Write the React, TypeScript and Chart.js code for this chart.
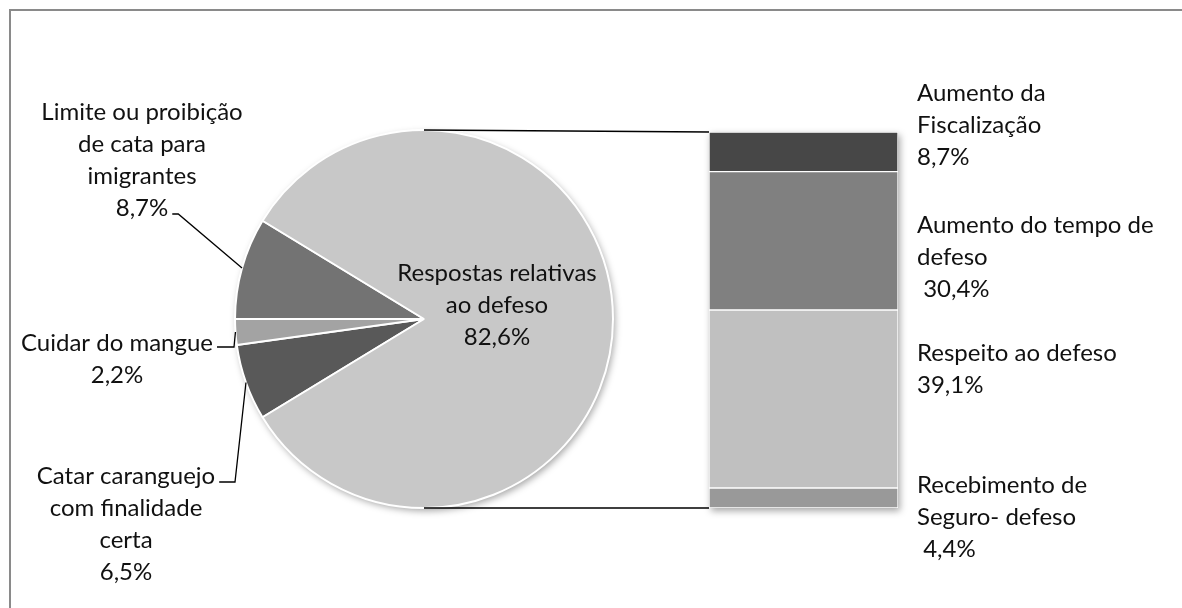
import React, { useEffect, useRef } from "react";
import { Chart, registerables } from "chart.js";

Chart.register(...registerables);

// ---- Pie (left) ----
const PIE_LABELS = [
  "Catar caranguejo com finalidade certa",
  "Cuidar do mangue",
  "Limite ou proibição de cata para imigrantes",
  "Respostas relativas ao defeso",
];
const PIE_VALUES = [6.5, 2.2, 8.7, 82.6];
const PIE_COLORS = ["#595959", "#a3a3a3", "#737373", "#c8c8c8"];
const PIE_TEXT_LINES = [
  ["Catar caranguejo", "com finalidade", "certa"],
  ["Cuidar do mangue"],
  ["Limite ou proibição", "de cata para", "imigrantes"],
  ["Respostas relativas", "ao defeso"],
];

// ---- Bar (right), bottom to top ----
const BAR_LABELS = [
  "Recebimento de Seguro- defeso",
  "Respeito ao defeso",
  "Aumento do tempo de defeso",
  "Aumento da Fiscalização",
];
const BAR_VALUES = [4.4, 39.1, 30.4, 8.7];
const BAR_COLORS = ["#999999", "#c0c0c0", "#808080", "#474747"];
const BAR_TEXT_LINES = [
  ["Recebimento de", "Seguro- defeso"],
  ["Respeito ao defeso"],
  ["Aumento do tempo de", "defeso"],
  ["Aumento da", "Fiscalização"],
];
const BAR_PCT_PREFIX = [" ", "", " ", ""];

// ---- layout (text placement only) ----
const FONT = "24px Lato";
const LINE_H = 32;
// leaderLine: index of the text line the leader starts from; hx2: elbow x; dy: leader offset below line centre
const PIE_LABEL_LAYOUT = [
  { x: 126, y: 476, leaderLine: 0, hx2: 235, dy: 6 },
  { x: 117, y: 343, leaderLine: 0, hx2: 234, dy: 4 },
  { x: 142, y: 112, leaderLine: 3, hx2: 174, dy: 6 },
  { x: 497, y: 273 },
];
const BAR_LABEL_X = 917;
const BAR_LABEL_Y = [485, 353, 225, 93];

const pct = (v: number) => v.toFixed(1).replace(".", ",") + "%";

export default function App() {
  const pieRef = useRef<HTMLCanvasElement>(null);
  const barRef = useRef<HTMLCanvasElement>(null);

  useEffect(() => {
    const smallSum = PIE_VALUES.slice(0, 3).reduce((a, b) => a + b, 0);
    const barTotal = BAR_VALUES.reduce((a, b) => a + b, 0);

    const drawLines = (ctx: CanvasRenderingContext2D, lines: string[], x: number, y: number, align: CanvasTextAlign) => {
      ctx.save();
      ctx.font = FONT;
      ctx.fillStyle = "#111111";
      ctx.textAlign = align;
      ctx.textBaseline = "middle";
      lines.forEach((t, i) => ctx.fillText(t, x, y + i * LINE_H));
      ctx.restore();
    };

    const pieDecor = {
      id: "pieDecor",
      beforeDatasetsDraw(chart: any) {
        const arc = chart.getDatasetMeta(0).data[0];
        const ctx = chart.ctx;
        ctx.save();
        ctx.shadowColor = "rgba(0,0,0,0.35)";
        ctx.shadowBlur = 7;
        ctx.shadowOffsetX = 2;
        ctx.shadowOffsetY = 3;
        ctx.beginPath();
        ctx.arc(arc.x, arc.y, arc.outerRadius, 0, Math.PI * 2);
        ctx.fillStyle = "#c8c8c8";
        ctx.fill();
        ctx.restore();
      },
      afterDatasetsDraw(chart: any) {
        const ctx = chart.ctx;
        const arcs = chart.getDatasetMeta(0).data;
        PIE_VALUES.forEach((v, i) => {
          const L: any = PIE_LABEL_LAYOUT[i];
          const lines = [...PIE_TEXT_LINES[i], pct(v)];
          drawLines(ctx, lines, L.x, L.y, "center");
          if (L.leaderLine !== undefined) {
            ctx.save();
            ctx.font = FONT;
            const w = ctx.measureText(lines[L.leaderLine]).width;
            const hx1 = L.x + w / 2 + 4;
            const hy = L.y + L.leaderLine * LINE_H + L.dy;
            const a = arcs[i];
            const mid = (a.startAngle + a.endAngle) / 2;
            const px = a.x + a.outerRadius * Math.cos(mid);
            const py = a.y + a.outerRadius * Math.sin(mid);
            ctx.strokeStyle = "#000";
            ctx.lineWidth = 1.3;
            ctx.beginPath();
            ctx.moveTo(hx1, hy);
            ctx.lineTo(Math.max(L.hx2, hx1 + 6), hy);
            ctx.lineTo(px, py);
            ctx.stroke();
            ctx.restore();
          }
        });
      },
    };

    const pie = new Chart(pieRef.current!, {
      type: "pie",
      data: {
        labels: PIE_LABELS,
        datasets: [
          {
            data: PIE_VALUES,
            backgroundColor: PIE_COLORS,
            borderColor: "#ffffff",
            borderWidth: 2,
          },
        ],
      },
      options: {
        responsive: false,
        animation: false,
        events: [],
        rotation: 270 - (smallSum / 100) * 180,
        layout: { padding: { left: 234, top: 129, right: 568, bottom: 99 } },
        plugins: { legend: { display: false }, tooltip: { enabled: false } },
      },
      plugins: [pieDecor],
    } as any);

    const barDecor = {
      id: "barDecor",
      beforeDatasetsDraw(chart: any) {
        const ctx = chart.ctx;
        const y = chart.scales.y;
        const el = chart.getDatasetMeta(0).data[0];
        const left = el.x - el.width / 2;
        const right = el.x + el.width / 2;
        const top = y.getPixelForValue(barTotal);
        const bottom = y.getPixelForValue(0);
        // shadow
        ctx.save();
        ctx.shadowColor = "rgba(0,0,0,0.35)";
        ctx.shadowBlur = 7;
        ctx.shadowOffsetX = 2;
        ctx.shadowOffsetY = 3;
        ctx.fillStyle = "#ffffff";
        ctx.fillRect(left, top, right - left, bottom - top);
        ctx.restore();
        // connector lines from pie
        const arc: any = pie.getDatasetMeta(0).data[0];
        ctx.save();
        ctx.strokeStyle = "#000";
        ctx.lineWidth = 1.3;
        ctx.beginPath();
        ctx.moveTo(arc.x, arc.y - arc.outerRadius);
        ctx.lineTo(left, top);
        ctx.moveTo(arc.x, arc.y + arc.outerRadius);
        ctx.lineTo(left, bottom);
        ctx.stroke();
        ctx.restore();
      },
      afterDatasetsDraw(chart: any) {
        const ctx = chart.ctx;
        BAR_VALUES.forEach((v, i) => {
          const lines = [...BAR_TEXT_LINES[i], BAR_PCT_PREFIX[i] + pct(v)];
          drawLines(ctx, lines, BAR_LABEL_X, BAR_LABEL_Y[i], "left");
        });
      },
    };

    const bar = new Chart(barRef.current!, {
      type: "bar",
      data: {
        labels: [""],
        datasets: BAR_VALUES.map((v, i) => ({
          label: BAR_LABELS[i],
          data: [v],
          backgroundColor: BAR_COLORS[i],
          borderColor: "#ffffff",
          borderWidth: 1,
          borderSkipped: false,
          barPercentage: 1,
          categoryPercentage: 1,
        })),
      },
      options: {
        responsive: false,
        animation: false,
        events: [],
        layout: { padding: { left: 709, top: 132, right: 284, bottom: 100 } },
        scales: {
          x: { display: false, stacked: true },
          y: { display: false, stacked: true, min: 0, max: barTotal },
        },
        plugins: { legend: { display: false }, tooltip: { enabled: false } },
      },
      plugins: [barDecor],
    } as any);

    return () => {
      bar.destroy();
      pie.destroy();
    };
  }, []);

  const abs: React.CSSProperties = { position: "absolute", left: 0, top: 0, display: "block" };
  return (
    <div>
      <div
        style={{
          position: "absolute",
          left: 9,
          top: 9,
          width: 1173,
          height: 599,
          boxSizing: "border-box",
          borderTop: "2px solid #8a8a8a",
          borderLeft: "2px solid #8a8a8a",
          background: "#ffffff",
        }}
      />
      <canvas ref={pieRef} width={1182} height={608} style={abs} />
      <canvas ref={barRef} width={1182} height={608} style={abs} />
    </div>
  );
}
